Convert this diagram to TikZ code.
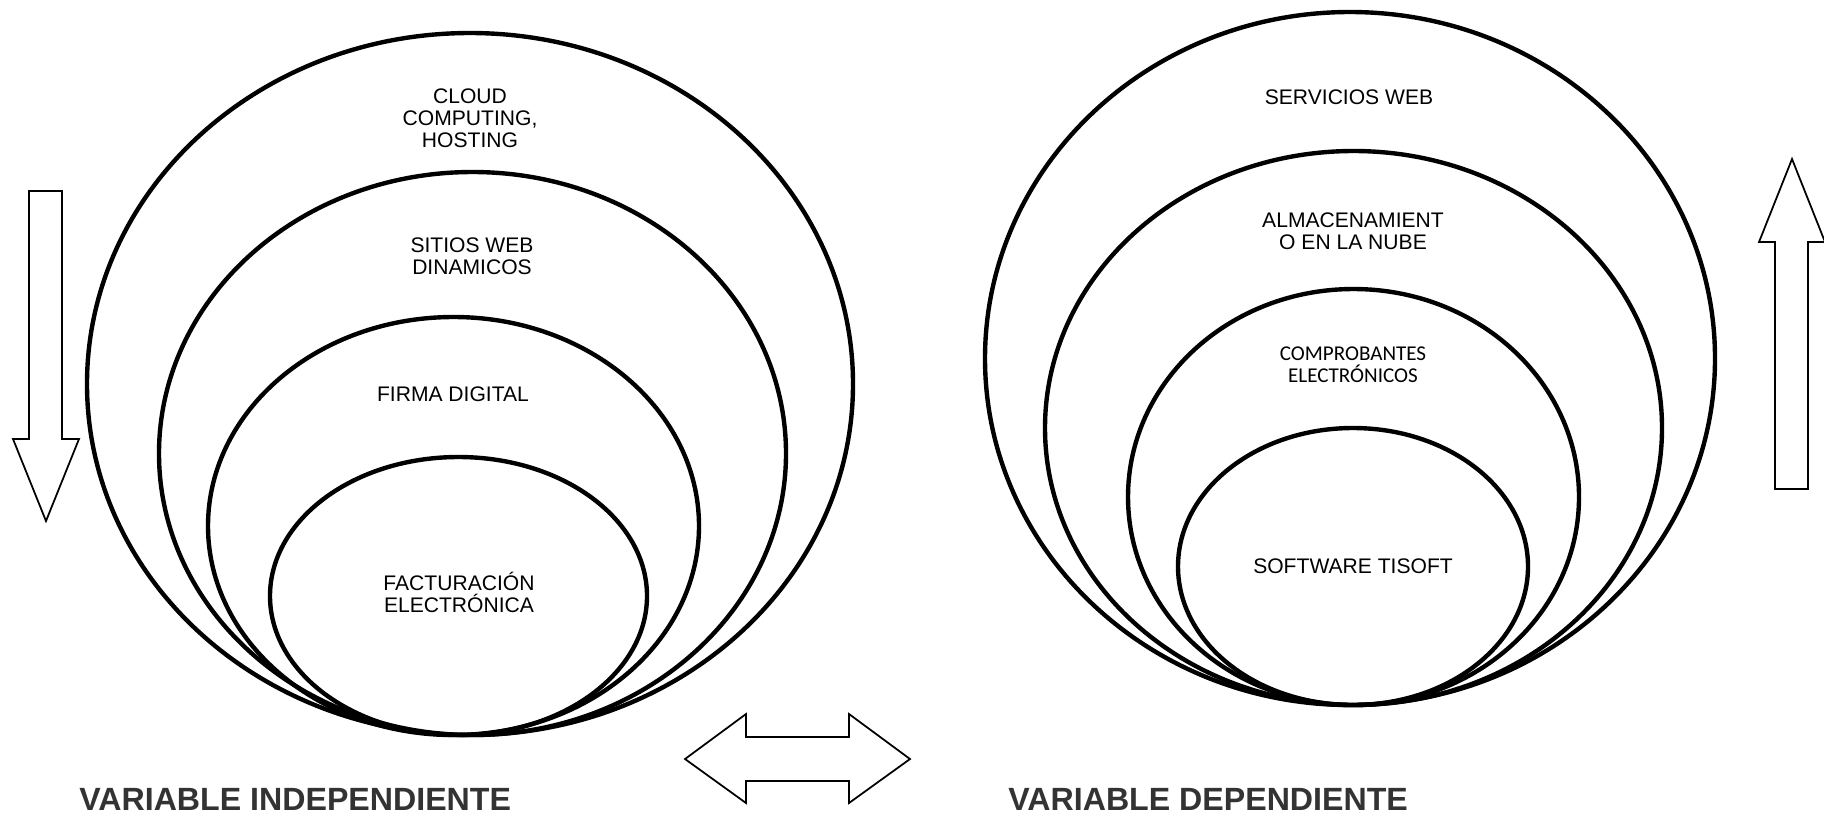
\documentclass[tikz,border=0pt]{standalone}
\usepackage{fontspec}
\setmainfont{Liberation Sans}
\newfontfamily\calibrifont{Carlito}
\usepackage{tikz}
\usetikzlibrary{positioning}

\definecolor{titlegray}{HTML}{333333}

\tikzset{
	ring/.style={line width=2.5pt},
	blockarrow/.style={line width=1pt,line join=miter},
	txt/.style={align=center,inner sep=0pt,font=\fontsize{12}{12.5}\selectfont},
	vartitle/.style={anchor=west,inner sep=0pt,text=titlegray,font=\fontsize{18.3}{20}\selectfont\bfseries}
}

\begin{document}
\begin{tikzpicture}[x=0.02cm,y=-0.02cm]
	\useasboundingbox (0,0) rectangle (1824,816);

	% Variable independiente
	\foreach \cx/\cy/\rx/\ry in {470/384/383/351,472.5/453.5/313.5/281.5,453.5/526/245.5/209,458.5/596/188.5/139}{
			\draw[ring] (\cx,\cy) ellipse [x radius=\rx,y radius=\ry];
		}
	\node[txt] (cloud) at (470,118) {CLOUD\\COMPUTING,\\HOSTING};
	\node[txt] (sitios) at (472,256) {SITIOS WEB\\DINAMICOS};
	\node[txt] (firma) at (453,394) {FIRMA DIGITAL};
	\node[txt] (factura) at (459,592) {FACTURACIÓN\\ELECTRÓNICA};

	% Variable dependiente
	\foreach \cx/\cy/\rx/\ry in {1350/358.5/365/346.5,1353.5/428/308.5/277,1353.5/497/225.5/208,1353/566.5/175/138.5}{
			\draw[ring] (\cx,\cy) ellipse [x radius=\rx,y radius=\ry];
		}
	\node[txt] (servicios) at (1349,97) {SERVICIOS WEB};
	\node[txt] (almacen) at (1353,231) {ALMACENAMIENT\\O EN LA NUBE};
	\node[txt,font=\calibrifont\fontsize{12}{12.5}\selectfont] (comprob) at (1353,365) {COMPROBANTES\\ELECTRÓNICOS};
	\node[txt] (software) at (1353,566) {SOFTWARE TISOFT};

	% flechas
	\draw[blockarrow] (29,191) -- (62,191) -- (62,439) -- (79,439) -- (46,521) -- (13,439) -- (29,439) -- cycle;
	\draw[blockarrow] (1775,489) -- (1808,489) -- (1808,242) -- (1825,242) -- (1792,159) -- (1759,242) -- (1775,242) -- cycle;
	\draw[blockarrow] (685,759) -- (746,714) -- (746,737) -- (849,737) -- (849,714) -- (910,759) -- (849,803) -- (849,781) -- (746,781) -- (746,803) -- cycle;

	\node[vartitle] (indep) at (79,799) {VARIABLE INDEPENDIENTE};
	\node[vartitle] (dep) at (1008,799) {VARIABLE DEPENDIENTE};
\end{tikzpicture}
\end{document}
